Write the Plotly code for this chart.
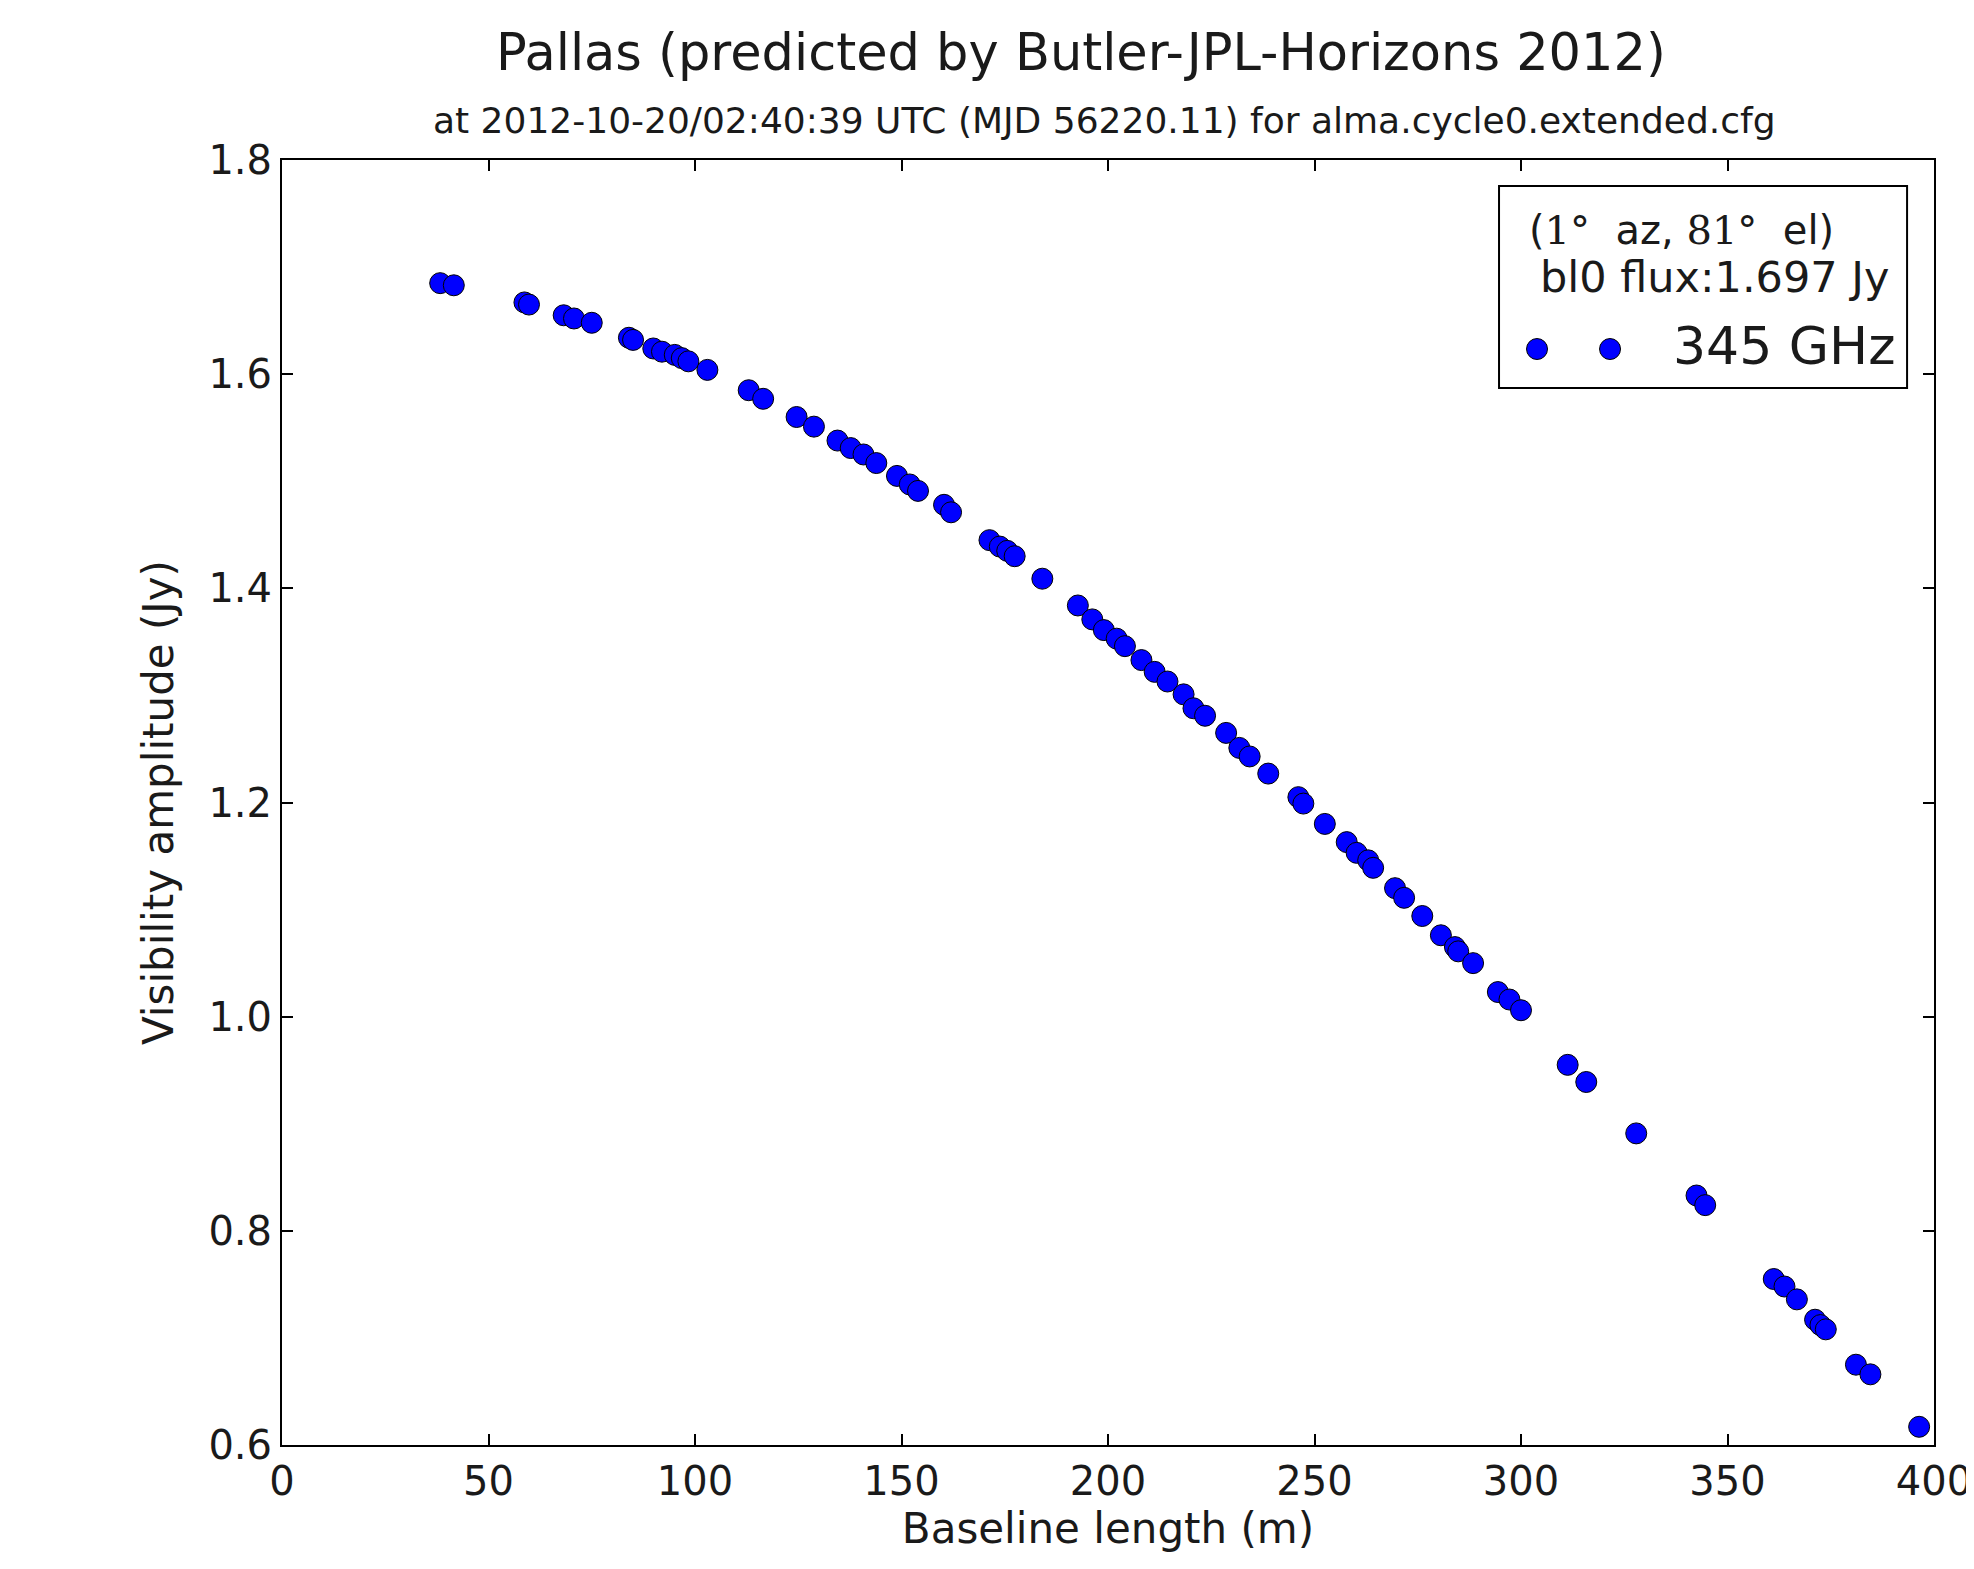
import plotly.graph_objects as go

# baseline length (m) and visibility amplitude (Jy)
baseline = [38.3, 41.6, 58.7, 59.8, 68.2, 70.7, 75.0, 84.0, 85.0, 89.9,
            92.0, 95.1, 96.8, 98.4, 103.0, 113.0, 116.5, 124.6, 128.8, 134.5,
            137.7, 140.8, 143.9, 148.9, 152.0, 154.0, 160.3, 162.0, 171.3, 173.8,
            175.6, 177.4, 184.1, 192.7, 196.2, 199.0, 202.1, 204.1, 208.1, 211.3,
            214.4, 218.3, 220.7, 223.5, 228.6, 231.8, 234.3, 238.8, 246.1, 247.3,
            252.5, 257.8, 260.2, 263.0, 264.2, 269.5, 271.7, 276.1, 280.6, 284.0,
            284.8, 288.4, 294.4, 297.2, 300.0, 311.3, 315.8, 327.9, 342.5, 344.6,
            361.2, 363.8, 366.8, 371.2, 372.5, 373.8, 381.1, 384.6, 396.4]
amplitude = [1.685, 1.683, 1.667, 1.665, 1.655, 1.652, 1.648, 1.634, 1.632, 1.624,
             1.621, 1.618, 1.615, 1.612, 1.604, 1.585, 1.577, 1.560, 1.551, 1.538,
             1.531, 1.525, 1.517, 1.505, 1.497, 1.491, 1.478, 1.471, 1.445, 1.439,
             1.435, 1.430, 1.409, 1.384, 1.371, 1.361, 1.353, 1.346, 1.333, 1.322,
             1.313, 1.301, 1.288, 1.281, 1.265, 1.251, 1.243, 1.227, 1.205, 1.199,
             1.180, 1.163, 1.153, 1.146, 1.139, 1.120, 1.111, 1.094, 1.076, 1.065,
             1.061, 1.050, 1.023, 1.016, 1.006, 0.955, 0.939, 0.891, 0.833, 0.824,
             0.755, 0.748, 0.736, 0.717, 0.712, 0.708, 0.675, 0.666, 0.617]

series_name = "345 GHz"
title = "Pallas (predicted by Butler-JPL-Horizons 2012)"
subtitle = "at 2012-10-20/02:40:39 UTC (MJD 56220.11) for alma.cycle0.extended.cfg"
serif = "<span style=\"font-family:'DejaVu Serif'\">%s</span>"
legend_line1 = "(" + serif % "1°" + "\u00a0 az, " + serif % "81°" + "\u00a0 el)"
legend_line2 = "bl0 flux:1.697 Jy"

font = "DejaVu Sans, Bitstream Vera Sans, sans-serif"
ink = "#1a1a1a"
dot_color = "#0000ff"

fig = go.Figure()
fig.add_trace(go.Scatter(x=baseline, y=amplitude, mode="markers", name=series_name,
                         showlegend=False,
                         marker=dict(color=dot_color, size=21,
                                     line=dict(color="black", width=1))))

axis_style = dict(showline=True, linecolor="black", linewidth=2, mirror="ticks",
                  ticks="inside", ticklen=11, tickwidth=1.5, tickcolor="black",
                  showgrid=False, zeroline=False,
                  tickfont=dict(family=font, size=40, color=ink))

fig.update_xaxes(range=[0, 400], dtick=50, tick0=0,
                 title=dict(text="Baseline length (m)", standoff=10,
                            font=dict(family=font, size=42, color=ink)),
                 **axis_style)
fig.update_yaxes(range=[0.6, 1.8], dtick=0.2, tick0=0.6, tickformat=".1f",
                 title=dict(text="Visibility amplitude (Jy)", standoff=22,
                            font=dict(family=font, size=42, color=ink)),
                 **axis_style)

fig.add_annotation(text=title, xref="paper", yref="paper", x=0.4837, y=1.0833,
                   showarrow=False, xanchor="center", yanchor="middle",
                   font=dict(family=font, size=51, color=ink))
fig.add_annotation(text=subtitle, xref="paper", yref="paper", x=0.498, y=1.0304,
                   showarrow=False, xanchor="center", yanchor="middle",
                   font=dict(family=font, size=36, color=ink))

# legend box drawn by hand (matplotlib style, two marker points)
fig.add_shape(type="rect", xref="paper", yref="paper",
              x0=0.7367, x1=0.9837, y0=0.8226, y1=0.9798,
              line=dict(color="black", width=2), fillcolor="white", layer="above")
fig.add_annotation(text=legend_line1, xref="paper", yref="paper", x=0.7536, y=0.9455,
                   showarrow=False, xanchor="left", yanchor="middle",
                   font=dict(family=font, size=40, color=ink))
fig.add_annotation(text=legend_line2, xref="paper", yref="paper", x=0.7603, y=0.9089,
                   showarrow=False, xanchor="left", yanchor="middle",
                   font=dict(family=font, size=43, color=ink))
for cx in [0.7597, 0.8039]:
    fig.add_shape(type="circle", xref="paper", yref="paper",
                  xsizemode="pixel", ysizemode="pixel", xanchor=cx, yanchor=0.8529,
                  x0=-10.5, x1=10.5, y0=-10.5, y1=10.5,
                  fillcolor=dot_color, line=dict(color="black", width=1), layer="above")
fig.add_annotation(text=series_name, xref="paper", yref="paper", x=0.8408, y=0.8552,
                   showarrow=False, xanchor="left", yanchor="middle",
                   font=dict(family=font, size=52, color=ink))

# page body adds an 8px offset, so margins are shifted by that much
fig.update_layout(
    width=1974, height=1569,
    margin=dict(l=274, r=48, t=152, b=132, autoexpand=False),
    paper_bgcolor="white", plot_bgcolor="white",
    showlegend=False,
)

fig.write_html("out.html")
